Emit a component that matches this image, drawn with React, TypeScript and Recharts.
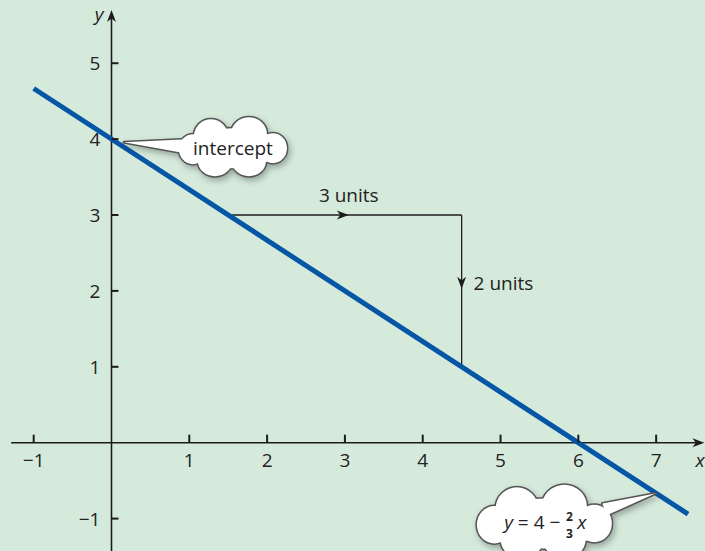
import { Line, LineChart, ReferenceDot, ReferenceLine, XAxis, YAxis } from "recharts";

// axis ticks
const xTicks = [-1, 1, 2, 3, 4, 5, 6, 7];
const yTicks = [-1, 1, 2, 3, 4, 5];

// y = 4 - (2/3)x, drawn between these x values
const intercept = 4;
const slope = -2 / 3;
const lineXs = [-1, 7.41];

// run/rise triangle
const stepStart = { x: 1.5, y: 3 };
const stepRun = 3;
const stepRise = -2;

// callout anchors (where the tail points)
const interceptTip = { x: 0.16, y: 3.96 };
const equationTip = { x: 6.99, y: -0.67 };

const X_DOMAIN = [-1.433, 7.628];
const Y_DOMAIN = [-1.427, 5.833];
const X_AXIS_RANGE = [-1.29, 7.62];
const Y_AXIS_RANGE = [-1.45, 5.7];

const lineData = lineXs.map((x) => ({ x, y: intercept + slope * x }));

const W = 705;
const H = 551;
const BG = "#d6eadc";
const INK = "#1c1c1c";
const BLUE = "#0656a6";
const FONT = "'Open Sans', 'Noto Sans', sans-serif";

const fmt = (v: number) => (v < 0 ? `\u2212${Math.abs(v)}` : `${v}`);

// notched arrowhead, tip at origin pointing along +x
const ARROW = "M0,0 L-12,-4.5 L-8.5,0 L-12,4.5 Z";

function Arrow({ cx, cy, angle }: { cx: number; cy: number; angle: number }) {
  return <path d={ARROW} transform={`translate(${cx},${cy}) rotate(${angle})`} fill={INK} />;
}

// cloud outline: overlapping ellipses [dx, dy, rx, ry]
const BUMPS: [number, number, number, number][] = [
  [0, 0, 46, 20],
  [-22, -12, 17, 17],
  [16, -14, 18, 17],
  [-40, 1, 14, 15],
  [40, 0, 14, 15],
  [-18, 13, 17, 15],
  [16, 13, 17, 15],
];

interface CalloutProps {
  cx: number;
  cy: number;
  dx: number;
  dy: number;
  scale: number;
  base: [number, number][];
  id: string;
  children: (bx: number, by: number) => React.ReactNode;
}

function Callout({ cx, cy, dx, dy, scale, base, id, children }: CalloutProps) {
  const bx = cx + dx;
  const by = cy + dy;
  const ells = BUMPS.map(([ex, ey, rx, ry]) => ({
    cx: bx + ex * scale,
    cy: by + ey * scale,
    rx: rx * scale,
    ry: ry * scale,
  }));
  const tail = `M${cx},${cy} L${bx + base[0][0]},${by + base[0][1]} L${bx + base[1][0]},${by + base[1][1]} Z`;
  return (
    <g>
      <defs>
        <filter id={id} x="-30%" y="-40%" width="160%" height="180%">
          <feDropShadow dx="2" dy="3" stdDeviation="3" floodColor="#000" floodOpacity="0.3" />
        </filter>
      </defs>
      <g filter={`url(#${id})`}>
        {ells.map((e, i) => <ellipse key={`s${i}`} {...e} fill="#fff" stroke="#555" strokeWidth={3} />)}
        <path d={tail} fill="#fff" stroke="#555" strokeWidth={3} strokeLinejoin="round" />
        {ells.map((e, i) => <ellipse key={`f${i}`} {...e} fill="#fff" />)}
        <path d={tail} fill="#fff" />
      </g>
      {children(bx, by)}
    </g>
  );
}

export default function App() {
  const textStyle = { fontFamily: FONT, fontSize: 19, fill: "#222" };
  const fracStyle = { ...textStyle, fontSize: 12, fontWeight: 700 };
  return (
    <div style={{ position: "absolute", left: 0, top: 0, width: W, height: H, background: BG, fontFamily: FONT }}>
      <LineChart width={W} height={H} data={lineData} margin={{ top: 0, right: 0, bottom: 0, left: 0 }}>
        <XAxis dataKey="x" type="number" domain={X_DOMAIN} allowDataOverflow hide />
        <YAxis type="number" domain={Y_DOMAIN} allowDataOverflow hide width={0} />

        {/* axes */}
        <ReferenceLine
          segment={[{ x: X_AXIS_RANGE[0], y: 0 }, { x: X_AXIS_RANGE[1] - 0.05, y: 0 }]}
          stroke={INK}
          strokeWidth={1.6}
          ifOverflow="visible"
        />
        <ReferenceLine
          segment={[{ x: 0, y: Y_AXIS_RANGE[0] }, { x: 0, y: Y_AXIS_RANGE[1] - 0.05 }]}
          stroke={INK}
          strokeWidth={1.6}
          ifOverflow="visible"
        />
        <ReferenceDot
          x={X_AXIS_RANGE[1]}
          y={0}
          r={1}
          ifOverflow="visible"
          shape={(p: any) => (
            <g>
              <Arrow cx={p.cx} cy={p.cy} angle={0} />
              <text x={p.cx - 9} y={p.cy + 24} style={{ ...textStyle, fontStyle: "italic" }}>x</text>
            </g>
          )}
        />
        <ReferenceDot
          x={0}
          y={Y_AXIS_RANGE[1]}
          r={1}
          ifOverflow="visible"
          shape={(p: any) => (
            <g>
              <Arrow cx={p.cx} cy={p.cy} angle={-90} />
              <text x={p.cx - 8} y={p.cy + 11} textAnchor="end" style={{ ...textStyle, fontStyle: "italic" }}>y</text>
            </g>
          )}
        />

        {xTicks.map((v) => (
          <ReferenceDot
            key={`xt${v}`}
            x={v}
            y={0}
            r={1}
            shape={(p: any) => (
              <g>
                <line x1={p.cx} x2={p.cx} y1={p.cy} y2={p.cy - 8} stroke={INK} strokeWidth={2} />
                <text x={p.cx} y={p.cy + 24} textAnchor="middle" style={textStyle}>{fmt(v)}</text>
              </g>
            )}
          />
        ))}
        {yTicks.map((v) => (
          <ReferenceDot
            key={`yt${v}`}
            x={0}
            y={v}
            r={1}
            shape={(p: any) => (
              <g>
                <line x1={p.cx} x2={p.cx + 7} y1={p.cy} y2={p.cy} stroke={INK} strokeWidth={2} />
                <text x={p.cx - 11} y={p.cy + 7} textAnchor="end" style={textStyle}>{fmt(v)}</text>
              </g>
            )}
          />
        ))}

        {/* run and rise */}
        <ReferenceLine
          segment={[stepStart, { x: stepStart.x + stepRun, y: stepStart.y }]}
          stroke={INK}
          strokeWidth={1.3}
        />
        <ReferenceLine
          segment={[
            { x: stepStart.x + stepRun, y: stepStart.y },
            { x: stepStart.x + stepRun, y: stepStart.y + stepRise },
          ]}
          stroke={INK}
          strokeWidth={1.3}
        />
        <ReferenceDot
          x={stepStart.x + stepRun / 2 + 0.05}
          y={stepStart.y}
          r={1}
          shape={(p: any) => (
            <g>
              <Arrow cx={p.cx} cy={p.cy} angle={0} />
              <text x={p.cx} y={p.cy - 13} textAnchor="middle" style={textStyle}>{`${stepRun} units`}</text>
            </g>
          )}
        />
        <ReferenceDot
          x={stepStart.x + stepRun}
          y={stepStart.y + stepRise / 2 + 0.03}
          r={1}
          shape={(p: any) => (
            <g>
              <Arrow cx={p.cx} cy={p.cy} angle={90} />
              <text x={p.cx + 12} y={p.cy + 1} style={textStyle}>{`${Math.abs(stepRise)} units`}</text>
            </g>
          )}
        />

        <Line
          dataKey="y"
          stroke={BLUE}
          strokeWidth={5}
          strokeLinecap="butt"
          dot={false}
          activeDot={false}
          isAnimationActive={false}
        />

        {/* callouts */}
        <ReferenceDot
          x={interceptTip.x}
          y={interceptTip.y}
          r={1}
          shape={(p: any) => (
            <Callout
              cx={p.cx}
              cy={p.cy}
              dx={109}
              dy={6}
              scale={1}
              base={[[-46, -9], [-48, 5]]}
              id="shadowA"
            >
              {(bx, by) => (
                <text x={bx} y={by + 7} textAnchor="middle" style={textStyle}>intercept</text>
              )}
            </Callout>
          )}
        />
        <ReferenceDot
          x={equationTip.x}
          y={equationTip.y}
          r={1}
          shape={(p: any) => (
            <Callout
              cx={p.cx}
              cy={p.cy}
              dx={-111}
              dy={30}
              scale={1.25}
              base={[[58, -20], [62, -8]]}
              id="shadowB"
            >
              {(bx, by) => (
                <g>
                  <text x={bx + 16} y={by + 5} textAnchor="end" style={textStyle}>
                    <tspan fontStyle="italic">y</tspan>
                    <tspan> = 4 {"\u2212"}</tspan>
                  </text>
                  <text x={bx + 25} y={by - 3} textAnchor="middle" style={fracStyle}>2</text>
                  <text x={bx + 25} y={by + 14} textAnchor="middle" style={fracStyle}>3</text>
                  <text x={bx + 33} y={by + 5} style={{ ...textStyle, fontStyle: "italic" }}>x</text>
                </g>
              )}
            </Callout>
          )}
        />
      </LineChart>
    </div>
  );
}
